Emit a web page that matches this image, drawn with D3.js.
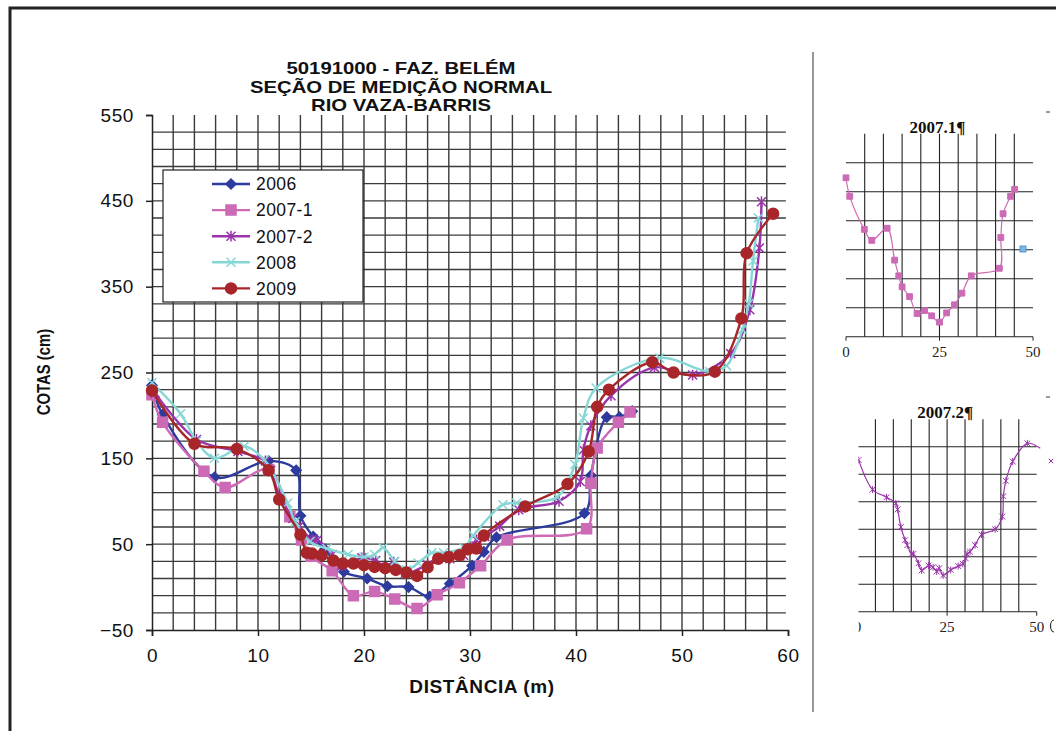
<!DOCTYPE html>
<html>
<head>
<meta charset="utf-8">
<script src="https://cdn.jsdelivr.net/npm/d3@7"></script>
<style>
body { margin: 0; background: #fff; }
</style>
</head>
<body>
<div id="container"></div>
<script>
// values: [distance (m), cota (cm)]
let titleLines = ["50191000 - FAZ. BELÉM", "SEÇÃO DE MEDIÇÃO NORMAL", "RIO VAZA-BARRIS"];
let xTicks = [0, 10, 20, 30, 40, 50, 60];
let yTicks = [-50, 50, 150, 250, 350, 450, 550];
let seriesNames = ["2006", "2007-1", "2007-2", "2008", "2009"];

let data2006 = [[0,235],[1,201],[5.9,128],[11,147],[13.6,136],[14,83],[15.2,59],[16.3,44],[18.1,18],[20.3,10],[22.2,1],[24.2,0],[26.2,-11],[28.1,4],[30.2,25],[31.3,41],[32.5,58],[40.8,86],[41.4,130],[42.9,198],[44.1,198],[45.3,205]];
let data2007a = [[0,224],[1,192],[4.9,135],[6.9,116],[11,137],[13,82],[14.1,55],[15,36],[17,19],[19,-10],[21,-5],[22.9,-14],[25,-25],[26.9,-9],[29,5],[31,25],[33.5,55],[41,68],[41.4,121],[42,162],[44,192],[45.1,204]];
let data2007b = [[0.3,226],[4.2,172],[8.1,158],[10.7,147],[11.2,136],[12.1,104],[13.3,80],[13.9,71],[15.1,55],[15.6,55],[17,38],[17.9,25],[19.8,34],[21.1,31],[22.1,23],[22.8,29],[23.9,16],[26,26],[28.1,33],[29.4,37],[30.2,47],[30.6,55],[31.4,59],[32.8,71],[34.6,90],[38.4,100],[40.4,123],[40.7,160],[41.4,188],[43.3,223],[47.4,256],[51,247],[54.6,272],[56.4,323],[57.3,395],[57.5,449]];
let data2008 = [[0,238],[2.7,202],[4.2,170],[5.9,150],[8.7,164],[10.6,148],[12.8,98],[13.5,76],[14.9,53],[16.5,45],[18.5,38],[20,35],[21,38],[21.8,46],[22.9,30],[24,20],[25.1,28],[26.4,40],[27.5,40],[29.4,46],[30.3,60],[33.1,96],[34.4,98],[38.2,105],[39.9,143],[40.7,197],[41.9,232],[47.9,267],[52.6,251],[54.2,258],[55.7,300],[56.3,330],[56.7,380],[57.2,430]];
let data2009 = [[0,229],[4,167],[8,161],[11,136],[12,102],[14,61],[14.6,40],[15.1,39],[16,37],[17.1,31],[18,27.5],[19,27.5],[20,25.5],[21,23.5],[22,22],[23,20],[24,17],[25,13],[26,23],[27,33],[28,35],[29,37],[29.8,44],[30.6,45],[31.3,60],[35.2,94],[39.2,120],[41.2,158],[42,210],[43.1,230],[47.2,262],[49.2,250],[53.1,251],[55.6,313],[56.1,389],[58.6,435]];

let insetXTicks = [0, 25, 50];

let w = 1056;
let h = 731;

let viz = d3.select("#container")
  .append("svg")
    .attr("width", w)
    .attr("height", h)
    .style("display", "block")
    .style("background-color", "white")
;

let sansFont = "'Liberation Sans', Arial, sans-serif";
let serifFont = "'Liberation Serif', 'Times New Roman', serif";
let gridColor = "#3a3a3a";

// frame
viz.append("rect")
    .attr("x", 10).attr("y", 8)
    .attr("width", 1060).attr("height", 740)
    .attr("fill", "none")
    .attr("stroke", "#222")
    .attr("stroke-width", 3)
;
viz.append("line")
    .attr("x1", 813).attr("x2", 813)
    .attr("y1", 52).attr("y2", 712)
    .attr("stroke", "#333")
    .attr("stroke-width", 1)
;

// main chart
let xScale = d3.scaleLinear().domain([0, 60]).range([152, 788]);
let yScale = d3.scaleLinear().domain([-50, 550]).range([630, 115]);

let grid = viz.append("g");
grid.selectAll(".vgrid").data(d3.range(2, 60, 2)).enter()
  .append("line")
    .attr("x1", d => xScale(d)).attr("x2", d => xScale(d))
    .attr("y1", yScale(550)).attr("y2", yScale(-50))
    .attr("stroke", gridColor)
    .attr("stroke-width", 1.4)
;
grid.selectAll(".hgrid").data(d3.range(-30, 550, 20)).enter()
  .append("line")
    .attr("x1", xScale(0)).attr("x2", xScale(59.8))
    .attr("y1", d => yScale(d)).attr("y2", d => yScale(d))
    .attr("stroke", gridColor)
    .attr("stroke-width", 1.4)
;

let yAxis = viz.append("g")
    .attr("transform", "translate(" + xScale(0) + ",0)")
    .call(d3.axisLeft(yScale).tickValues(yTicks).tickSizeOuter(0).tickSize(6).tickPadding(12));
let xAxis = viz.append("g")
    .attr("transform", "translate(0," + yScale(-50) + ")")
    .call(d3.axisBottom(xScale).tickValues(xTicks).tickSizeOuter(0).tickSize(6).tickPadding(13));

[yAxis, xAxis].forEach(function(ax){
  ax.selectAll("path, line").attr("stroke", "#222").attr("stroke-width", 1.5);
  ax.selectAll("text")
    .attr("fill", "#111")
    .style("font-family", sansFont)
    .style("font-size", "19px")
    .style("letter-spacing", "0.6px");
});

// title: the picture's lettering is wide, so stretch it sideways
viz.append("g").selectAll("text").data(titleLines).enter()
  .append("text")
    .text(d => d)
    .attr("transform", (d, i) => "translate(401," + (74 + i * 18.5) + ") scale(1.27,1)")
    .attr("text-anchor", "middle")
    .attr("fill", "#111")
    .style("font-family", sansFont)
    .style("font-weight", "bold")
    .style("font-size", "16px")
;

viz.append("text")
    .text("COTAS (cm)")
    .attr("transform", "translate(50,372) rotate(-90) scale(0.93,1.2)")
    .attr("text-anchor", "middle")
    .attr("fill", "#111")
    .style("font-family", sansFont)
    .style("font-weight", "bold")
    .style("font-size", "16px")
;
viz.append("text")
    .text("DISTÂNCIA (m)")
    .attr("x", 482)
    .attr("y", 693)
    .attr("text-anchor", "middle")
    .attr("fill", "#111")
    .style("font-family", sansFont)
    .style("font-weight", "bold")
    .style("font-size", "19px")
    .style("letter-spacing", "0.6px")
;

// series styles
let styles = [
  {data: data2006, color: "#2e3b9e", marker: "diamond"},
  {data: data2007a, color: "#cc6ab6", marker: "square"},
  {data: data2007b, color: "#9a34aa", marker: "star"},
  {data: data2008, color: "#86d6d6", marker: "cross"},
  {data: data2009, color: "#a8262a", marker: "circle"}
];

function markerPath(type, s){
  if (type == "diamond") return "M0," + (-s) + "L" + s + ",0L0," + s + "L" + (-s) + ",0Z";
  if (type == "square") return "M" + (-s) + "," + (-s) + "h" + (2*s) + "v" + (2*s) + "h" + (-2*s) + "Z";
  if (type == "circle") return d3.symbol(d3.symbolCircle, Math.PI * s * s)();
  let p = "M" + (-s) + "," + (-s) + "L" + s + "," + s + "M" + (-s) + "," + s + "L" + s + "," + (-s);
  if (type == "star") p += "M0," + (-s*1.2) + "L0," + (s*1.2);
  return p;
}

function markerSize(type){
  if (type == "square") return 5;
  if (type == "circle") return 5.5;
  if (type == "diamond") return 5;
  return 4.5;
}

function drawMarkers(g, pts, st, xs, ys, s, lw){
  g.selectAll(".m").data(pts).enter()
    .append("path")
      .attr("d", markerPath(st.marker, s))
      .attr("transform", d => "translate(" + xs(d[0]) + "," + ys(d[1]) + ")")
      .attr("fill", (st.marker == "star" || st.marker == "cross") ? "none" : st.color)
      .attr("stroke", st.color)
      .attr("stroke-width", lw)
  ;
}

let mainLine = d3.line()
    .x(d => xScale(d[0]))
    .y(d => yScale(d[1]))
    .curve(d3.curveCatmullRom.alpha(0.5));

styles.forEach(function(st){
  let g = viz.append("g");
  g.append("path")
      .attr("d", mainLine(st.data))
      .attr("fill", "none")
      .attr("stroke", st.color)
      .attr("stroke-width", 2.4)
  ;
  drawMarkers(g, st.data, st, xScale, yScale, markerSize(st.marker), 1.5);
});

// legend
let legend = viz.append("g");
legend.append("rect")
    .attr("x", 163).attr("y", 170)
    .attr("width", 200).attr("height", 132)
    .attr("fill", "white")
    .attr("stroke", "#222")
    .attr("stroke-width", 1.2)
;
let rows = legend.selectAll(".row").data(seriesNames).enter()
  .append("g")
    .attr("transform", (d, i) => "translate(0," + (184 + i * 26.1) + ")")
;
rows.append("line")
    .attr("x1", 212).attr("x2", 250)
    .attr("stroke", (d, i) => styles[i].color)
    .attr("stroke-width", 2.4)
;
rows.append("path")
    .attr("d", (d, i) => markerPath(styles[i].marker, markerSize(styles[i].marker)))
    .attr("transform", "translate(231,0)")
    .attr("fill", (d, i) => (styles[i].marker == "star" || styles[i].marker == "cross") ? "none" : styles[i].color)
    .attr("stroke", (d, i) => styles[i].color)
    .attr("stroke-width", 1.5)
;
rows.append("text")
    .text(d => d)
    .attr("x", 256)
    .attr("dy", "0.36em")
    .attr("fill", "#111")
    .style("font-family", sansFont)
    .style("font-size", "17.5px")
    .style("letter-spacing", "0.4px")
;

// small inset charts on the right
function drawInset(title, pts, st, x0, x1, yBottom, yTop, titleY, clipLeft){
  let xs = d3.scaleLinear().domain([0, 50]).range([x0, x1]);
  let ys = d3.scaleLinear().domain([-50, 300]).range([yBottom, yTop]);
  let g = viz.append("g");
  let clipId = "clip" + title.replace(".", "").replace("¶", "");
  viz.append("clipPath").attr("id", clipId)
    .append("rect")
      .attr("x", clipLeft).attr("y", yTop - 30)
      .attr("width", 1056 - clipLeft).attr("height", yBottom - yTop + 60)
  ;
  g.attr("clip-path", "url(#" + clipId + ")");

  g.selectAll(".iv").data(d3.range(5, 50, 5)).enter()
    .append("line")
      .attr("x1", d => xs(d)).attr("x2", d => xs(d))
      .attr("y1", yTop).attr("y2", yBottom)
      .attr("stroke", "#222").attr("stroke-width", 1.1)
  ;
  g.selectAll(".ih").data(d3.range(0, 300, 50)).enter()
    .append("line")
      .attr("x1", x0).attr("x2", x1)
      .attr("y1", d => ys(d)).attr("y2", d => ys(d))
      .attr("stroke", "#222").attr("stroke-width", 1.1)
  ;
  g.append("line")
      .attr("x1", x0).attr("x2", x1)
      .attr("y1", yBottom).attr("y2", yBottom)
      .attr("stroke", "#222").attr("stroke-width", 1.1)
  ;
  g.selectAll(".it").data(insetXTicks).enter()
    .append("line")
      .attr("x1", d => xs(d)).attr("x2", d => xs(d))
      .attr("y1", yBottom).attr("y2", yBottom + 4)
      .attr("stroke", "#222").attr("stroke-width", 1)
  ;
  g.selectAll(".il").data(insetXTicks).enter()
    .append("text")
      .text(d => d)
      .attr("x", d => xs(d))
      .attr("y", yBottom + 20)
      .attr("text-anchor", "middle")
      .attr("fill", "#222")
      .style("font-family", serifFont)
      .style("font-size", "15px")
  ;
  let line = d3.line()
      .x(d => xs(d[0]))
      .y(d => ys(d[1]))
      .curve(d3.curveCatmullRom.alpha(0.5));
  let lineClip = pts.filter(d => d[0] <= 51);
  g.append("path")
      .attr("d", line(lineClip))
      .attr("fill", "none")
      .attr("stroke", st.color)
      .attr("stroke-width", 1.2)
  ;
  drawMarkers(g, lineClip.filter(d => d[0] <= 48), st, xs, ys, 2.9, 1);

  viz.append("text")
      .text(title)
      .attr("x", (x0 + x1) / 2 - 2)
      .attr("y", titleY)
      .attr("text-anchor", "middle")
      .attr("fill", "#111")
      .style("font-family", serifFont)
      .style("font-weight", "bold")
      .style("font-size", "17px")
  ;
  return {xs: xs, ys: ys};
}

let inset1 = drawInset("2007.1¶", data2007a, styles[1], 846, 1033, 336.7, 133.7, 132.5, 840);
let inset2 = drawInset("2007.2¶", data2007b, styles[2], 857.5, 1036.7, 611.7, 419.2, 417.5, 858.5);

// stray bits at the right edge of the insets
viz.append("rect")
    .attr("x", 1020).attr("y", 246)
    .attr("width", 6).attr("height", 6)
    .attr("fill", "#7ab8e6")
    .attr("stroke", "#3f86c6")
    .attr("stroke-width", 0.8)
;
viz.selectAll(".dash").data([112, 397]).enter()
  .append("line")
    .attr("x1", 1046).attr("x2", 1050)
    .attr("y1", d => d).attr("y2", d => d)
    .attr("stroke", "#333")
;
viz.append("path")
    .attr("d", markerPath("cross", 2.2))
    .attr("transform", "translate(1051,461)")
    .attr("fill", "none")
    .attr("stroke", styles[2].color)
;
// left half of a cut-off tick label at the picture's edge
viz.append("path")
    .attr("d", "M1054,620 A3.5,6 0 0 0 1054,632")
    .attr("fill", "none")
    .attr("stroke", "#333")
    .attr("stroke-width", 1.2)
;
</script>
</body>
</html>
